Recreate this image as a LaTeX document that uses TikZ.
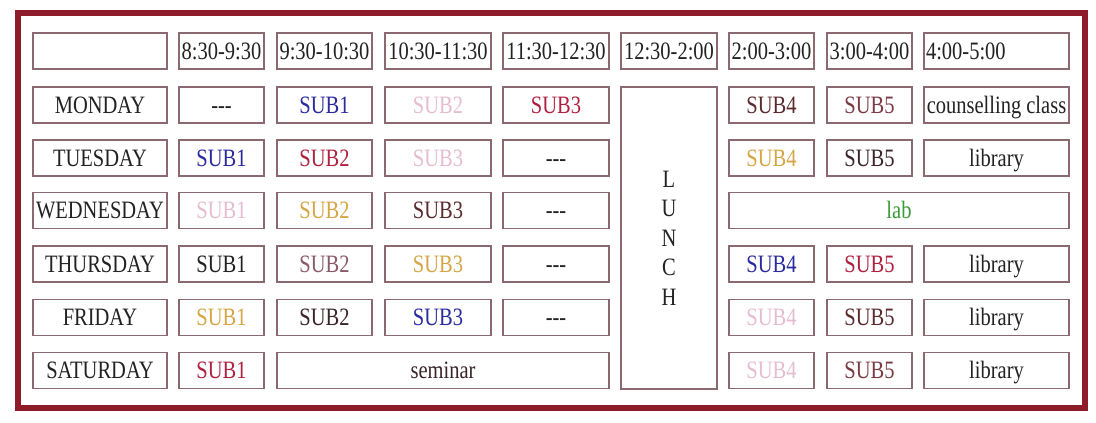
\documentclass[tikz,border=0pt]{standalone}
\usepackage{fontspec}
\setmainfont[FakeStretch=0.82]{Liberation Serif}
\definecolor{frame}{HTML}{8E1B2A}
\definecolor{cellline}{HTML}{8A6A70}
\definecolor{txt}{HTML}{222222}
\definecolor{cblue}{HTML}{2B2BA0}
\definecolor{cpink}{HTML}{E6BDD0}
\definecolor{ccrim}{HTML}{B02040}
\definecolor{cbrown}{HTML}{5A2A2E}
\definecolor{cmaroon}{HTML}{7A3A44}
\definecolor{cgold}{HTML}{D6A544}
\definecolor{cdark}{HTML}{3A2428}
\definecolor{cmauve}{HTML}{8A5A68}
\definecolor{cgreen}{HTML}{3A9A3A}
\tikzset{
  cellbox/.style={draw=cellline, line width=1.3pt, fill=white, inner xsep=1pt, inner ysep=0pt,
    text height=26pt, text depth=10pt, font=\fontsize{25}{29}\selectfont, text=txt},
}
\newcommand\nodash{\mbox{-}\mbox{-}\mbox{-}}
% \tcell{name}{cx}{cy}{width}{color}{text}
\newcommand\tcell[6]{\node[cellbox, minimum width=#4pt, text=#5] (#1) at (#2,#3) {#6};}
\begin{document}
\begin{tikzpicture}[x=1pt,y=-1pt]
\useasboundingbox (0,0) rectangle (1096,423);
\fill[white] (0,0) rectangle (1096,423);
\draw[frame, line width=6pt] (18,13) rectangle (1085,408);
% header row
\tcell{h0}{100}{51}{134}{txt}{}
\tcell{h1}{221.5}{51}{85}{txt}{8:30-9:30}
\tcell{h2}{324.5}{51}{95}{txt}{9:30-10:30}
\tcell{h3}{438}{51}{106}{txt}{10:30-11:30}
\tcell{h4}{556}{51}{106}{txt}{11:30-12:30}
\tcell{h5}{669}{51}{96}{txt}{12:30-2:00}
\tcell{h6}{771.5}{51}{85}{txt}{2:00-3:00}
\tcell{h7}{869.5}{51}{85}{txt}{3:00-4:00}
\node[cellbox, text width=141pt, inner xsep=2pt, align=left] (h8) at (996.5,51) {4:00-5:00};
% Monday
\tcell{d1}{100}{105}{134}{txt}{MONDAY}
\tcell{m1}{221.5}{105}{85}{txt}{\nodash}
\tcell{m2}{324.5}{105}{95}{cblue}{SUB1}
\tcell{m3}{438}{105}{106}{cpink}{SUB2}
\tcell{m4}{556}{105}{106}{ccrim}{SUB3}
\tcell{m6}{771.5}{105}{85}{cbrown}{SUB4}
\tcell{m7}{869.5}{105}{85}{cmaroon}{SUB5}
\tcell{m8}{996.5}{105}{145}{txt}{counselling class}
% Tuesday
\tcell{d2}{100}{158}{134}{txt}{TUESDAY}
\tcell{t1}{221.5}{158}{85}{cblue}{SUB1}
\tcell{t2}{324.5}{158}{95}{ccrim}{SUB2}
\tcell{t3}{438}{158}{106}{cpink}{SUB3}
\tcell{t4}{556}{158}{106}{txt}{\nodash}
\tcell{t6}{771.5}{158}{85}{cgold}{SUB4}
\tcell{t7}{869.5}{158}{85}{cdark}{SUB5}
\tcell{t8}{996.5}{158}{145}{txt}{library}
% Wednesday
\tcell{d3}{100}{210.5}{134}{txt}{WEDNESDAY}
\tcell{w1}{221.5}{210.5}{85}{cpink}{SUB1}
\tcell{w2}{324.5}{210.5}{95}{cgold}{SUB2}
\tcell{w3}{438}{210.5}{106}{cbrown}{SUB3}
\tcell{w4}{556}{210.5}{106}{txt}{\nodash}
\tcell{lab}{899}{210.5}{340}{cgreen}{lab}
% Thursday
\tcell{d4}{100}{264}{134}{txt}{THURSDAY}
\tcell{th1}{221.5}{264}{85}{txt}{SUB1}
\tcell{th2}{324.5}{264}{95}{cmauve}{SUB2}
\tcell{th3}{438}{264}{106}{cgold}{SUB3}
\tcell{th4}{556}{264}{106}{txt}{\nodash}
\tcell{th6}{771.5}{264}{85}{cblue}{SUB4}
\tcell{th7}{869.5}{264}{85}{ccrim}{SUB5}
\tcell{th8}{996.5}{264}{145}{txt}{library}
% Friday
\tcell{d5}{100}{317.5}{134}{txt}{FRIDAY}
\tcell{f1}{221.5}{317.5}{85}{cgold}{SUB1}
\tcell{f2}{324.5}{317.5}{95}{cdark}{SUB2}
\tcell{f3}{438}{317.5}{106}{cblue}{SUB3}
\tcell{f4}{556}{317.5}{106}{txt}{\nodash}
\tcell{f6}{771.5}{317.5}{85}{cpink}{SUB4}
\tcell{f7}{869.5}{317.5}{85}{cbrown}{SUB5}
\tcell{f8}{996.5}{317.5}{145}{txt}{library}
% Saturday
\tcell{d6}{100}{370.5}{134}{txt}{SATURDAY}
\tcell{s1}{221.5}{370.5}{85}{ccrim}{SUB1}
\tcell{sem}{443}{370.5}{332}{cdark}{seminar}
\tcell{s6}{771.5}{370.5}{85}{cpink}{SUB4}
\tcell{s7}{869.5}{370.5}{85}{cmaroon}{SUB5}
\tcell{s8}{996.5}{370.5}{145}{txt}{library}
% Lunch
\node[draw=cellline, line width=1.3pt, fill=white, minimum width=96pt, minimum height=302pt,
  inner sep=0pt, align=center, font=\fontsize{25}{29.5}\selectfont, text=txt] (lunch) at (669,238)
  {L\\U\\N\\C\\H};
\end{tikzpicture}
\end{document}
